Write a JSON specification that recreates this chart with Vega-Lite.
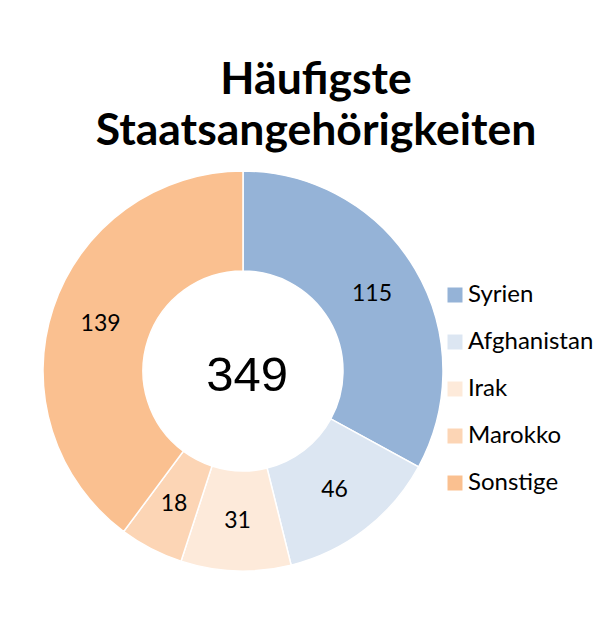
{
  "$schema": "https://vega.github.io/schema/vega-lite/v6.json",
  "autosize": {"type": "none"},
  "padding": {"left": 43, "top": 170, "right": 170, "bottom": 47},
  "width": 400,
  "height": 402,
  "background": "white",
  "config": {"view": {"stroke": null}},
  "title": {
    "text": ["Häufigste", "Staatsangehörigkeiten"],
    "font": "Lato",
    "fontSize": 44.5,
    "fontWeight": "bold",
    "lineHeight": 51,
    "color": "black",
    "anchor": "middle",
    "dx": 73,
    "offset": 14
  },
  "layer": [
    {
      "data": {
        "values": [
          {"Land": "Syrien", "Anzahl": 115, "Rang": 1},
          {"Land": "Afghanistan", "Anzahl": 46, "Rang": 2},
          {"Land": "Irak", "Anzahl": 31, "Rang": 3},
          {"Land": "Marokko", "Anzahl": 18, "Rang": 4},
          {"Land": "Sonstige", "Anzahl": 139, "Rang": 5}
        ]
      },
      "encoding": {
        "theta": {"field": "Anzahl", "type": "quantitative", "stack": true},
        "order": {"field": "Rang", "type": "quantitative"},
        "color": {
          "field": "Land",
          "type": "nominal",
          "sort": null,
          "scale": {
            "domain": ["Syrien", "Afghanistan", "Irak", "Marokko", "Sonstige"],
            "range": ["#95B3D7", "#DCE6F2", "#FDEADA", "#FCD5B5", "#FAC090"]
          },
          "legend": {
            "title": null,
            "orient": "none",
            "legendX": 400,
            "legendY": 113,
            "padding": 0,
            "symbolType": "square",
            "symbolSize": 225,
            "symbolStrokeWidth": 0,
            "labelFont": "Lato",
            "labelFontSize": 24,
            "labelColor": "black",
            "labelOffset": 1,
            "rowPadding": 23
          }
        }
      },
      "layer": [
        {
          "mark": {"type": "arc", "innerRadius": 100, "outerRadius": 200, "stroke": "white", "strokeWidth": 1.5}
        },
        {
          "mark": {"type": "text", "radius": 150, "font": "Lato", "fontSize": 23, "color": "black"},
          "encoding": {
            "text": {"field": "Anzahl", "type": "quantitative"},
            "color": {"value": "black"}
          }
        }
      ]
    },
    {
      "data": {"values": [{"Gesamt": 349}]},
      "mark": {"type": "text", "font": "Liberation Sans", "fontSize": 49, "color": "black", "dx": 4, "dy": 5},
      "encoding": {"text": {"field": "Gesamt", "type": "quantitative"}}
    }
  ]
}
